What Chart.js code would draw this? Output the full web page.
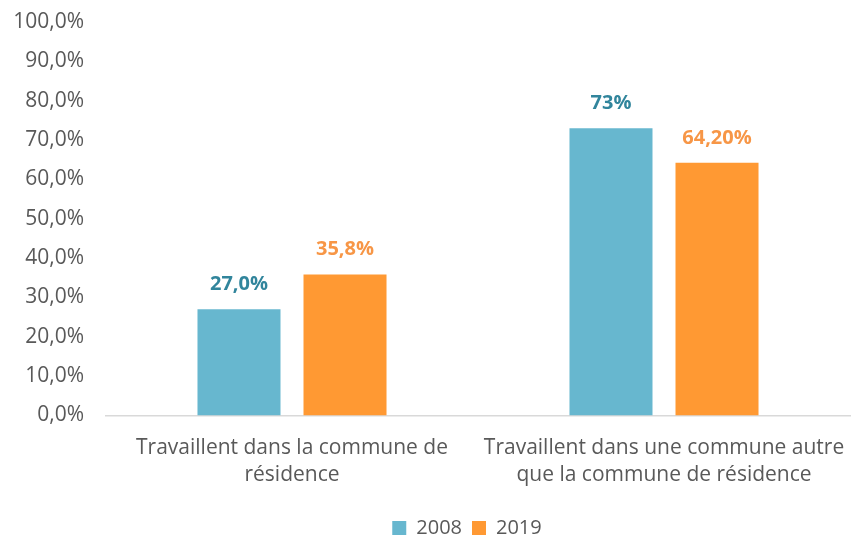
<!DOCTYPE html>
<html>
<head>
<meta charset="utf-8">
<script src="https://cdn.jsdelivr.net/npm/chart.js@4"></script>
<style>
  html, body { margin: 0; padding: 0; background: #fff; }
  #wrap { width: 856px; height: 548px; }
</style>
</head>
<body>
<div id="wrap"><canvas id="myChart"></canvas></div>
<script>
const categories = [
  ['Travaillent dans la commune de', 'résidence'],
  ['Travaillent dans une commune autre', 'que la commune de résidence']
]
const series2008 = [27.0, 73.0]
const series2019 = [35.8, 64.2]
const labels2008 = ['27,0%', '73%']
const labels2019 = ['35,8%', '64,20%']
const yTicks = [0, 10, 20, 30, 40, 50, 60, 70, 80, 90, 100]

const fontFamily = "'Open Sans', 'Noto Sans', sans-serif"

// draws the value labels above bars
const valueLabels = {
  id: 'valueLabels',
  afterDatasetsDraw(chart) {
    const ctx = chart.ctx
    const texts = [labels2008, labels2019]
    const colors = ['#31859c', '#f79646']
    chart.data.datasets.forEach((ds, i) => {
      const meta = chart.getDatasetMeta(i)
      meta.data.forEach((bar, j) => {
        ctx.save()
        ctx.font = 'bold 20px ' + fontFamily
        ctx.fillStyle = colors[i]
        ctx.textAlign = 'center'
        ctx.textBaseline = 'middle'
        ctx.fillText(texts[i][j], bar.x, bar.y - 25)
        ctx.restore()
      })
    })
  }
}

// legend sits a bit right of the canvas centre in the original
const legendShift = {
  id: 'legendShift',
  afterLayout(chart) {
    chart.legend.left += 37
    chart.legend.right += 37
  }
}

const data = {
  labels: categories,
  datasets: [
    {
      label: '2008',
      data: series2008,
      backgroundColor: '#67b7cf',
      categoryPercentage: 0.57,
      barPercentage: 0.783
    },
    {
      label: '2019',
      data: series2019,
      backgroundColor: '#ff9933',
      categoryPercentage: 0.57,
      barPercentage: 0.783
    }
  ]
}

const config = {
  type: 'bar',
  data,
  options: {
    responsive: true,
    maintainAspectRatio: false,
    animation: false,
    layout: { padding: { left: 10, right: 6, top: 22, bottom: 0 } },
    scales: {
      y: {
        min: 0,
        max: 100,
        afterBuildTicks: axis => { axis.ticks = yTicks.map(v => ({ value: v })) },
        afterFit: axis => { axis.width = 96; axis.paddingTop = 0; axis.paddingBottom = 0 },
        grid: { display: false, drawTicks: false },
        border: { display: false },
        ticks: {
          padding: 22,
          color: '#595959',
          font: { family: fontFamily, size: 21 },
          callback: v => v.toFixed(1).replace('.', ',') + '%'
        }
      },
      x: {
        afterFit: axis => { axis.paddingLeft = 0; axis.paddingRight = 0 },
        grid: { display: false, drawTicks: false },
        border: { display: true, color: '#d9d9d9', width: 1.5 },
        ticks: {
          padding: 19,
          color: '#595959',
          font: { family: fontFamily, size: 21, lineHeight: 1.3 },
          maxRotation: 0
        }
      }
    },
    plugins: {
      legend: {
        position: 'bottom',
        labels: {
          boxWidth: 14,
          boxHeight: 14,
          padding: 10,
          color: '#595959',
          font: { family: fontFamily, size: 20 }
        }
      },
      tooltip: { enabled: false }
    }
  },
  plugins: [valueLabels, legendShift]
}

const myChart = new Chart(document.getElementById('myChart'), config)
</script>
</body>
</html>
